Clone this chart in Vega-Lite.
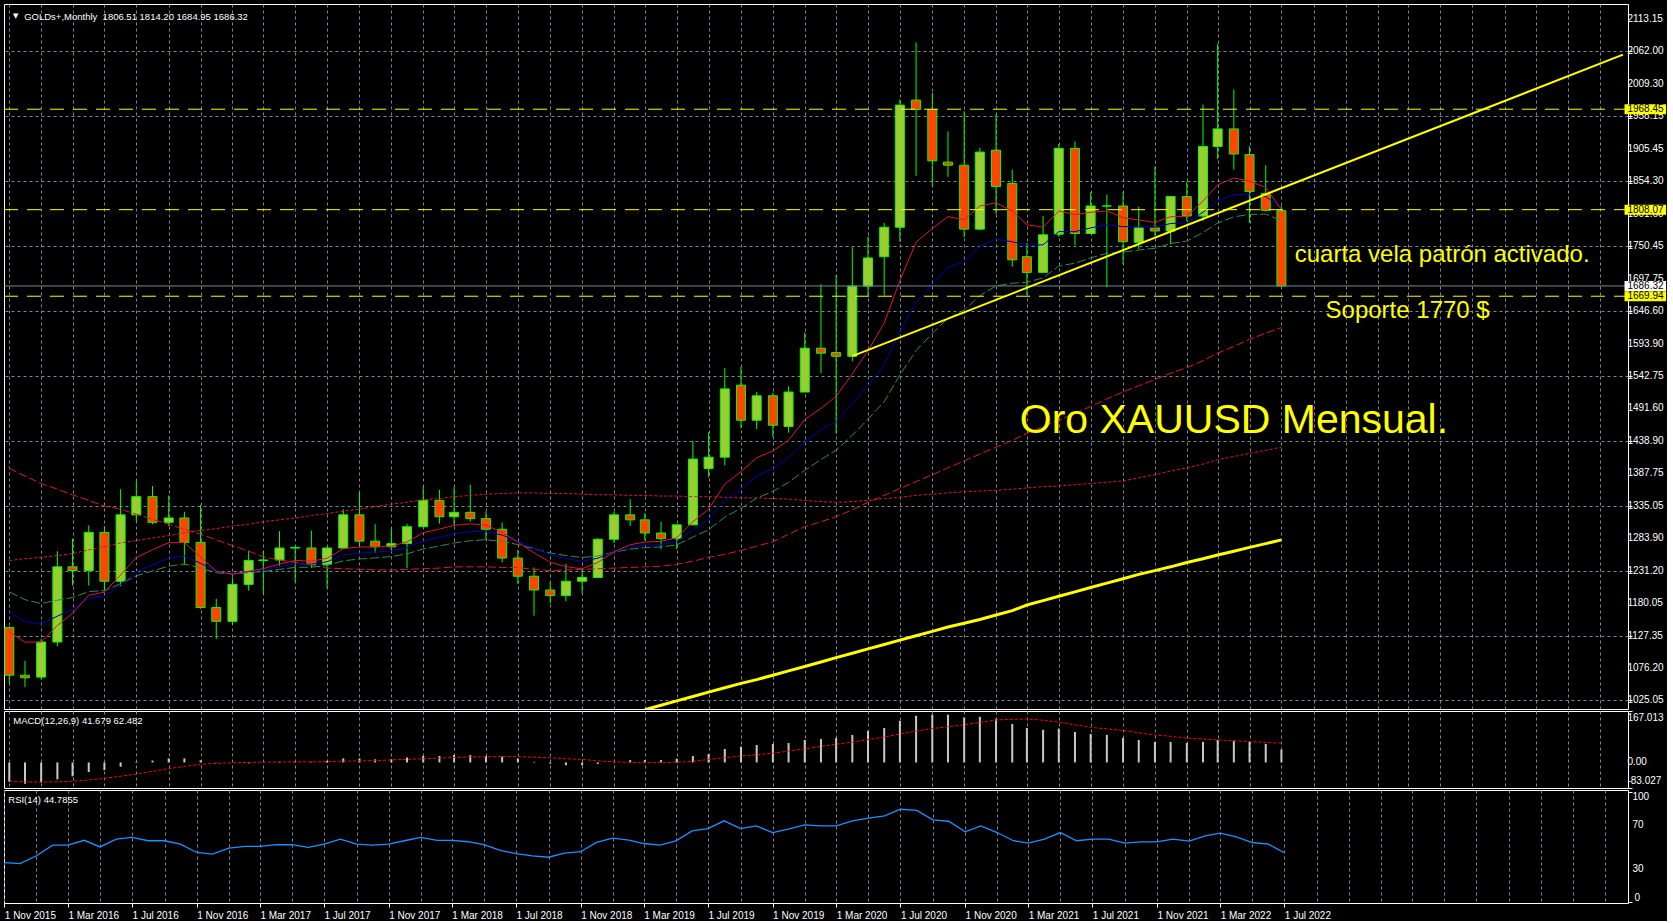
{
  "$schema": "https://vega.github.io/schema/vega-lite/v6.json",
  "background": "#000000",
  "padding": {"left": 3, "top": 3, "right": 0, "bottom": 0},
  "bounds": "flush",
  "spacing": 2,
  "resolve": {"scale": {"x": "independent", "y": "independent"}},
  "datasets": {
    "bars": [
      {"d": "2015-11-01", "o": 1141, "h": 1143, "l": 1052, "c": 1065, "e8": 1134, "e13": 1166, "e21": 1198, "s50": 1395, "s100": 1248, "s200": null, "m": -63, "sg": -62, "r": 35.9},
      {"d": "2015-12-01", "o": 1065, "h": 1088, "l": 1046, "c": 1061, "e8": 1117.8, "e13": 1151, "e21": 1185.5, "s50": 1383, "s100": 1251, "s200": null, "m": -69, "sg": -63, "r": 35},
      {"d": "2016-01-01", "o": 1062, "h": 1123, "l": 1058, "c": 1118, "e8": 1117.8, "e13": 1146.3, "e21": 1179.4, "s50": 1371, "s100": 1253, "s200": null, "m": -65, "sg": -64, "r": 42},
      {"d": "2016-02-01", "o": 1118, "h": 1263, "l": 1111, "c": 1238, "e8": 1144.5, "e13": 1159.4, "e21": 1184.7, "s50": 1362, "s100": 1256, "s200": null, "m": -55, "sg": -63, "r": 51.6},
      {"d": "2016-03-01", "o": 1238, "h": 1283, "l": 1208, "c": 1232, "e8": 1163.9, "e13": 1169.8, "e21": 1189, "s50": 1353, "s100": 1259, "s200": null, "m": -45, "sg": -61, "r": 51.6},
      {"d": "2016-04-01", "o": 1232, "h": 1304, "l": 1208, "c": 1293, "e8": 1192.6, "e13": 1187.4, "e21": 1198.5, "s50": 1344, "s100": 1265, "s200": null, "m": -31, "sg": -57, "r": 56},
      {"d": "2016-05-01", "o": 1293, "h": 1303, "l": 1200, "c": 1215, "e8": 1197.6, "e13": 1191.3, "e21": 1200, "s50": 1335, "s100": 1270, "s200": null, "m": -25, "sg": -52, "r": 50},
      {"d": "2016-06-01", "o": 1215, "h": 1362, "l": 1207, "c": 1321, "e8": 1225, "e13": 1209.8, "e21": 1211, "s50": 1330, "s100": 1276, "s200": null, "m": -14, "sg": -45, "r": 57},
      {"d": "2016-07-01", "o": 1321, "h": 1375, "l": 1310, "c": 1350, "e8": 1252.8, "e13": 1229.8, "e21": 1223.6, "s50": 1322, "s100": 1280, "s200": null, "m": -2, "sg": -38, "r": 58.6},
      {"d": "2016-08-01", "o": 1350, "h": 1367, "l": 1306, "c": 1309, "e8": 1265.3, "e13": 1241.1, "e21": 1231.4, "s50": 1314, "s100": 1284, "s200": null, "m": 6, "sg": -29, "r": 55.6},
      {"d": "2016-09-01", "o": 1309, "h": 1352, "l": 1303, "c": 1316, "e8": 1276.6, "e13": 1251.8, "e21": 1239.1, "s50": 1306, "s100": 1288, "s200": null, "m": 13, "sg": -20, "r": 55.6},
      {"d": "2016-10-01", "o": 1316, "h": 1326, "l": 1241, "c": 1277, "e8": 1276.7, "e13": 1255.4, "e21": 1242.5, "s50": 1298, "s100": 1292, "s200": null, "m": 13, "sg": -13, "r": 52.6},
      {"d": "2016-11-01", "o": 1277, "h": 1337, "l": 1171, "c": 1173, "e8": 1253.7, "e13": 1243.6, "e21": 1236.2, "s50": 1290, "s100": 1296, "s200": null, "m": 7, "sg": -6, "r": 45},
      {"d": "2016-12-01", "o": 1173, "h": 1187, "l": 1123, "c": 1151, "e8": 1230.9, "e13": 1230.4, "e21": 1228.5, "s50": 1281, "s100": 1299, "s200": null, "m": -1, "sg": -3, "r": 43.6},
      {"d": "2017-01-01", "o": 1151, "h": 1220, "l": 1146, "c": 1210, "e8": 1226.3, "e13": 1227.5, "e21": 1226.8, "s50": 1272, "s100": 1303, "s200": null, "m": 0, "sg": -1, "r": 49},
      {"d": "2017-02-01", "o": 1210, "h": 1264, "l": 1200, "c": 1248, "e8": 1231.1, "e13": 1230.4, "e21": 1228.7, "s50": 1263, "s100": 1306, "s200": null, "m": -3, "sg": 0, "r": 50.5},
      {"d": "2017-03-01", "o": 1248, "h": 1263, "l": 1195, "c": 1249, "e8": 1235.1, "e13": 1233.1, "e21": 1230.5, "s50": 1254, "s100": 1310, "s200": null, "m": 1, "sg": 1, "r": 50.5},
      {"d": "2017-04-01", "o": 1249, "h": 1295, "l": 1240, "c": 1268, "e8": 1242.4, "e13": 1238.1, "e21": 1233.9, "s50": 1249, "s100": 1313, "s200": null, "m": 2, "sg": 1, "r": 52},
      {"d": "2017-05-01", "o": 1268, "h": 1270, "l": 1214, "c": 1269, "e8": 1248.3, "e13": 1242.5, "e21": 1237.1, "s50": 1245, "s100": 1316, "s200": null, "m": 3, "sg": 2, "r": 52},
      {"d": "2017-06-01", "o": 1268, "h": 1296, "l": 1236, "c": 1242, "e8": 1246.9, "e13": 1242.4, "e21": 1237.5, "s50": 1240, "s100": 1320, "s200": null, "m": 2, "sg": 2, "r": 49.6},
      {"d": "2017-07-01", "o": 1242, "h": 1270, "l": 1204, "c": 1268, "e8": 1251.6, "e13": 1246.1, "e21": 1240.3, "s50": 1236, "s100": 1323, "s200": null, "m": 5, "sg": 2, "r": 52.6},
      {"d": "2017-08-01", "o": 1268, "h": 1330, "l": 1267, "c": 1321, "e8": 1267, "e13": 1256.8, "e21": 1247.6, "s50": 1235, "s100": 1327, "s200": null, "m": 13, "sg": 4, "r": 57},
      {"d": "2017-09-01", "o": 1321, "h": 1357, "l": 1271, "c": 1279, "e8": 1269.7, "e13": 1260, "e21": 1250.5, "s50": 1234, "s100": 1330, "s200": null, "m": 13, "sg": 5, "r": 52.6},
      {"d": "2017-10-01", "o": 1279, "h": 1306, "l": 1260, "c": 1270, "e8": 1269.8, "e13": 1261.4, "e21": 1252.3, "s50": 1233, "s100": 1334, "s200": null, "m": 10, "sg": 6, "r": 51.6},
      {"d": "2017-11-01", "o": 1270, "h": 1299, "l": 1264, "c": 1275, "e8": 1270.9, "e13": 1263.3, "e21": 1254.4, "s50": 1233, "s100": 1338, "s200": null, "m": 10, "sg": 8, "r": 52.6},
      {"d": "2017-12-01", "o": 1275, "h": 1307, "l": 1236, "c": 1302, "e8": 1277.8, "e13": 1268.8, "e21": 1258.7, "s50": 1234, "s100": 1341, "s200": null, "m": 16, "sg": 10, "r": 55.6},
      {"d": "2018-01-01", "o": 1302, "h": 1366, "l": 1302, "c": 1344, "e8": 1292.5, "e13": 1279.5, "e21": 1266.5, "s50": 1235, "s100": 1345, "s200": null, "m": 21, "sg": 12, "r": 58.6},
      {"d": "2018-02-01", "o": 1344, "h": 1361, "l": 1307, "c": 1318, "e8": 1298.2, "e13": 1285, "e21": 1271.2, "s50": 1236, "s100": 1347, "s200": null, "m": 21, "sg": 14, "r": 56},
      {"d": "2018-03-01", "o": 1318, "h": 1365, "l": 1303, "c": 1325, "e8": 1304.2, "e13": 1290.7, "e21": 1276.1, "s50": 1238, "s100": 1350, "s200": null, "m": 24, "sg": 16, "r": 56},
      {"d": "2018-04-01", "o": 1325, "h": 1369, "l": 1310, "c": 1315, "e8": 1306.6, "e13": 1294.2, "e21": 1279.6, "s50": 1238, "s100": 1352, "s200": null, "m": 24, "sg": 18, "r": 54.7},
      {"d": "2018-05-01", "o": 1315, "h": 1326, "l": 1281, "c": 1298, "e8": 1304.7, "e13": 1294.7, "e21": 1281.3, "s50": 1238, "s100": 1354, "s200": null, "m": 21, "sg": 18, "r": 52},
      {"d": "2018-06-01", "o": 1298, "h": 1309, "l": 1245, "c": 1252, "e8": 1293, "e13": 1288.6, "e21": 1278.6, "s50": 1237, "s100": 1355, "s200": null, "m": 19, "sg": 19, "r": 47},
      {"d": "2018-07-01", "o": 1252, "h": 1265, "l": 1211, "c": 1223, "e8": 1277.4, "e13": 1279.2, "e21": 1273.5, "s50": 1237, "s100": 1356, "s200": null, "m": 13, "sg": 19, "r": 44},
      {"d": "2018-08-01", "o": 1223, "h": 1237, "l": 1160, "c": 1201, "e8": 1260.4, "e13": 1268, "e21": 1266.9, "s50": 1234, "s100": 1356, "s200": null, "m": 2, "sg": 17, "r": 42},
      {"d": "2018-09-01", "o": 1201, "h": 1214, "l": 1180, "c": 1192, "e8": 1245.2, "e13": 1257.1, "e21": 1260.1, "s50": 1232, "s100": 1355, "s200": null, "m": -4, "sg": 15, "r": 40.7},
      {"d": "2018-10-01", "o": 1192, "h": 1243, "l": 1183, "c": 1215, "e8": 1238.5, "e13": 1251.1, "e21": 1256, "s50": 1233, "s100": 1355, "s200": null, "m": -9, "sg": 12, "r": 44.4},
      {"d": "2018-11-01", "o": 1215, "h": 1237, "l": 1196, "c": 1221, "e8": 1234.6, "e13": 1246.8, "e21": 1252.8, "s50": 1234, "s100": 1354, "s200": null, "m": -9, "sg": 10, "r": 45.7},
      {"d": "2018-12-01", "o": 1221, "h": 1284, "l": 1221, "c": 1282, "e8": 1245.1, "e13": 1251.8, "e21": 1255.5, "s50": 1235, "s100": 1353, "s200": null, "m": -5, "sg": 5, "r": 54.1},
      {"d": "2019-01-01", "o": 1282, "h": 1326, "l": 1276, "c": 1321, "e8": 1262, "e13": 1261.7, "e21": 1261.4, "s50": 1236, "s100": 1353, "s200": null, "m": 1, "sg": 2, "r": 58},
      {"d": "2019-02-01", "o": 1321, "h": 1346, "l": 1303, "c": 1313, "e8": 1273.3, "e13": 1269, "e21": 1266.1, "s50": 1237, "s100": 1352, "s200": null, "m": 7.6, "sg": 0, "r": 56.2},
      {"d": "2019-03-01", "o": 1313, "h": 1324, "l": 1280, "c": 1292, "e8": 1277.5, "e13": 1272.3, "e21": 1268.5, "s50": 1238, "s100": 1352, "s200": 1010, "m": 7.6, "sg": 0, "r": 53.1},
      {"d": "2019-04-01", "o": 1292, "h": 1310, "l": 1266, "c": 1283, "e8": 1278.7, "e13": 1273.8, "e21": 1269.8, "s50": 1239, "s100": 1351, "s200": 1017, "m": 7.6, "sg": 0, "r": 51.6},
      {"d": "2019-05-01", "o": 1283, "h": 1306, "l": 1266, "c": 1305, "e8": 1284.5, "e13": 1278.3, "e21": 1273, "s50": 1242, "s100": 1351, "s200": 1024, "m": 12, "sg": 1, "r": 55.5},
      {"d": "2019-06-01", "o": 1305, "h": 1439, "l": 1305, "c": 1410, "e8": 1310, "e13": 1297.1, "e21": 1285.5, "s50": 1247, "s100": 1350, "s200": 1031, "m": 20.7, "sg": 3, "r": 64.5},
      {"d": "2019-07-01", "o": 1395, "h": 1453, "l": 1381, "c": 1413, "e8": 1330, "e13": 1313.7, "e21": 1297.1, "s50": 1253, "s100": 1350, "s200": 1038, "m": 27, "sg": 10, "r": 66.6},
      {"d": "2019-08-01", "o": 1413, "h": 1555, "l": 1400, "c": 1522, "e8": 1370, "e13": 1343.2, "e21": 1317.4, "s50": 1258, "s100": 1349, "s200": 1045, "m": 43.6, "sg": 15, "r": 73.6},
      {"d": "2019-09-01", "o": 1528, "h": 1557, "l": 1459, "c": 1472, "e8": 1390, "e13": 1361.6, "e21": 1331.4, "s50": 1264, "s100": 1348, "s200": 1052, "m": 51, "sg": 21, "r": 66.6},
      {"d": "2019-10-01", "o": 1472, "h": 1517, "l": 1458, "c": 1511, "e8": 1412, "e13": 1382.9, "e21": 1347.7, "s50": 1271, "s100": 1348, "s200": 1058, "m": 56.7, "sg": 25, "r": 69},
      {"d": "2019-11-01", "o": 1511, "h": 1516, "l": 1445, "c": 1464, "e8": 1423, "e13": 1394.5, "e21": 1358.3, "s50": 1278, "s100": 1347, "s200": 1065, "m": 60, "sg": 30, "r": 63},
      {"d": "2019-12-01", "o": 1462, "h": 1526, "l": 1452, "c": 1517, "e8": 1440, "e13": 1412, "e21": 1372.7, "s50": 1290, "s100": 1346, "s200": 1072, "m": 63, "sg": 37, "r": 66},
      {"d": "2020-01-01", "o": 1517, "h": 1612, "l": 1517, "c": 1587, "e8": 1473, "e13": 1437, "e21": 1392.2, "s50": 1302, "s100": 1344, "s200": 1079, "m": 73, "sg": 44, "r": 70},
      {"d": "2020-02-01", "o": 1587, "h": 1689, "l": 1547, "c": 1579, "e8": 1491, "e13": 1457.3, "e21": 1409.2, "s50": 1310, "s100": 1342, "s200": 1086, "m": 76, "sg": 52, "r": 69},
      {"d": "2020-03-01", "o": 1580, "h": 1704, "l": 1451, "c": 1574, "e8": 1510, "e13": 1470, "e21": 1424.2, "s50": 1318, "s100": 1341, "s200": 1093, "m": 79.6, "sg": 59, "r": 69},
      {"d": "2020-04-01", "o": 1574, "h": 1748, "l": 1566, "c": 1686, "e8": 1546, "e13": 1498, "e21": 1448, "s50": 1329, "s100": 1342, "s200": 1100, "m": 89, "sg": 66, "r": 73.6},
      {"d": "2020-05-01", "o": 1686, "h": 1765, "l": 1670, "c": 1731, "e8": 1583, "e13": 1527, "e21": 1473.7, "s50": 1341, "s100": 1344, "s200": 1107, "m": 102.5, "sg": 74, "r": 76},
      {"d": "2020-06-01", "o": 1733, "h": 1787, "l": 1671, "c": 1780, "e8": 1627, "e13": 1560, "e21": 1501.5, "s50": 1352, "s100": 1347, "s200": 1114, "m": 112, "sg": 83, "r": 78},
      {"d": "2020-07-01", "o": 1780, "h": 1984, "l": 1757, "c": 1975, "e8": 1695, "e13": 1614, "e21": 1544.5, "s50": 1363, "s100": 1349, "s200": 1121, "m": 135, "sg": 92, "r": 84},
      {"d": "2020-08-01", "o": 1983, "h": 2075, "l": 1862, "c": 1968, "e8": 1756, "e13": 1660, "e21": 1583, "s50": 1374, "s100": 1352, "s200": 1128, "m": 151.6, "sg": 102, "r": 83},
      {"d": "2020-09-01", "o": 1968, "h": 1995, "l": 1846, "c": 1886, "e8": 1778, "e13": 1688, "e21": 1610.5, "s50": 1385, "s100": 1354, "s200": 1135, "m": 155, "sg": 110, "r": 74.4},
      {"d": "2020-10-01", "o": 1884, "h": 1933, "l": 1860, "c": 1879, "e8": 1797, "e13": 1716, "e21": 1634.9, "s50": 1396, "s100": 1356, "s200": 1142, "m": 155, "sg": 116, "r": 73.2},
      {"d": "2020-11-01", "o": 1879, "h": 1965, "l": 1764, "c": 1777, "e8": 1792, "e13": 1725, "e21": 1647.8, "s50": 1407, "s100": 1358, "s200": 1148, "m": 146, "sg": 122, "r": 63.6},
      {"d": "2020-12-01", "o": 1777, "h": 1907, "l": 1775, "c": 1900, "e8": 1814, "e13": 1750, "e21": 1670.7, "s50": 1418, "s100": 1359, "s200": 1154, "m": 148, "sg": 130, "r": 69},
      {"d": "2021-01-01", "o": 1903, "h": 1960, "l": 1801, "c": 1845, "e8": 1819, "e13": 1761, "e21": 1686.5, "s50": 1429, "s100": 1360, "s200": 1161, "m": 142, "sg": 138, "r": 63},
      {"d": "2021-02-01", "o": 1850, "h": 1872, "l": 1717, "c": 1728, "e8": 1806, "e13": 1757, "e21": 1690.7, "s50": 1440, "s100": 1362, "s200": 1168, "m": 125, "sg": 140, "r": 55.6},
      {"d": "2021-03-01", "o": 1733, "h": 1755, "l": 1672, "c": 1708, "e8": 1784, "e13": 1751, "e21": 1692.3, "s50": 1451, "s100": 1364, "s200": 1177, "m": 112, "sg": 141, "r": 53.4},
      {"d": "2021-04-01", "o": 1708, "h": 1798, "l": 1708, "c": 1768, "e8": 1780, "e13": 1752, "e21": 1699.2, "s50": 1462, "s100": 1366, "s200": 1184, "m": 106, "sg": 137, "r": 57},
      {"d": "2021-05-01", "o": 1769, "h": 1913, "l": 1765, "c": 1906, "e8": 1806, "e13": 1773, "e21": 1718, "s50": 1472, "s100": 1367, "s200": 1191, "m": 110, "sg": 131, "r": 63},
      {"d": "2021-06-01", "o": 1906, "h": 1917, "l": 1751, "c": 1770, "e8": 1800, "e13": 1773, "e21": 1722.7, "s50": 1483, "s100": 1369, "s200": 1198, "m": 99, "sg": 122, "r": 55.6},
      {"d": "2021-07-01", "o": 1770, "h": 1836, "l": 1770, "c": 1814, "e8": 1803.9, "e13": 1779, "e21": 1731, "s50": 1494, "s100": 1371, "s200": 1205, "m": 92.7, "sg": 114, "r": 57},
      {"d": "2021-08-01", "o": 1814, "h": 1832, "l": 1684, "c": 1814, "e8": 1806.1, "e13": 1784, "e21": 1738.5, "s50": 1506, "s100": 1373, "s200": 1212, "m": 89.4, "sg": 109, "r": 57},
      {"d": "2021-09-01", "o": 1814, "h": 1836, "l": 1721, "c": 1757, "e8": 1795.2, "e13": 1781, "e21": 1740.2, "s50": 1517, "s100": 1375, "s200": 1219, "m": 79.6, "sg": 104, "r": 53.4},
      {"d": "2021-10-01", "o": 1756, "h": 1813, "l": 1745, "c": 1779, "e8": 1791.6, "e13": 1781, "e21": 1743.7, "s50": 1527, "s100": 1380, "s200": 1226, "m": 73, "sg": 96, "r": 54.6},
      {"d": "2021-11-01", "o": 1779, "h": 1877, "l": 1766, "c": 1774, "e8": 1787.7, "e13": 1780, "e21": 1746.5, "s50": 1537, "s100": 1385, "s200": 1232, "m": 66.5, "sg": 89, "r": 54.6},
      {"d": "2021-12-01", "o": 1774, "h": 1830, "l": 1753, "c": 1829, "e8": 1796.9, "e13": 1786, "e21": 1754, "s50": 1547, "s100": 1391, "s200": 1238, "m": 66.5, "sg": 85, "r": 57},
      {"d": "2022-01-01", "o": 1829, "h": 1853, "l": 1790, "c": 1798, "e8": 1797.1, "e13": 1787, "e21": 1758, "s50": 1556, "s100": 1396, "s200": 1245, "m": 63, "sg": 79, "r": 55.2},
      {"d": "2022-02-01", "o": 1798, "h": 1976, "l": 1790, "c": 1909, "e8": 1822, "e13": 1804, "e21": 1771.7, "s50": 1567, "s100": 1402, "s200": 1251, "m": 66.5, "sg": 76, "r": 60},
      {"d": "2022-03-01", "o": 1909, "h": 2073, "l": 1889, "c": 1937, "e8": 1847.6, "e13": 1822, "e21": 1786.7, "s50": 1579, "s100": 1409, "s200": 1257, "m": 73, "sg": 73, "r": 62.4},
      {"d": "2022-04-01", "o": 1937, "h": 2000, "l": 1872, "c": 1897, "e8": 1858.6, "e13": 1832, "e21": 1796.7, "s50": 1590, "s100": 1414, "s200": 1263, "m": 71, "sg": 70, "r": 59},
      {"d": "2022-05-01", "o": 1896, "h": 1909, "l": 1787, "c": 1837, "e8": 1853.8, "e13": 1833, "e21": 1800.4, "s50": 1601, "s100": 1419, "s200": 1269, "m": 66.5, "sg": 68, "r": 54},
      {"d": "2022-06-01", "o": 1834, "h": 1879, "l": 1805, "c": 1807, "e8": 1843.4, "e13": 1829, "e21": 1801, "s50": 1611, "s100": 1424, "s200": 1275, "m": 60, "sg": 65, "r": 52.5},
      {"d": "2022-07-01", "o": 1806.51, "h": 1814.2, "l": 1684.95, "c": 1686.32, "e8": 1808.4, "e13": 1811, "e21": 1790.5, "s50": 1620, "s100": 1429, "s200": 1281, "m": 41.679, "sg": 62.482, "r": 44.79}
    ],
    "pticks": [
      {"v": 2113.15}, {"v": 2062.0}, {"v": 2009.3}, {"v": 1958.15}, {"v": 1905.45}, {"v": 1854.3},
      {"v": 1801.6}, {"v": 1750.45}, {"v": 1697.75}, {"v": 1646.6}, {"v": 1593.9}, {"v": 1542.75},
      {"v": 1491.6}, {"v": 1438.9}, {"v": 1387.75}, {"v": 1335.05}, {"v": 1283.9}, {"v": 1231.2},
      {"v": 1180.05}, {"v": 1127.35}, {"v": 1076.2}, {"v": 1025.05}
    ],
    "mticks": [
      {"v": 167.013, "t": "167.013"},
      {"v": 0, "t": "0.00"},
      {"v": -83.027, "t": "-83.027"}
    ],
    "rticks": [
      {"v": 100, "t": "100"},
      {"v": 70, "t": "70"},
      {"v": 30, "t": "30"}
    ],
    "levels": [
      {"p": 1968.45, "k": "lvl"},
      {"p": 1808.07, "k": "lvl"},
      {"p": 1686.32, "k": "bid"},
      {"p": 1669.94, "k": "lvl"}
    ],
    "trend": [
      {"d": "2020-04-01", "p": 1574.4},
      {"d": "2024-04-14T14:00:00Z", "p": 2055.6}
    ],
    "head": [
      {"d": "2015-11-29T12:00:00Z", "p": 2111.1, "t": "GOLDs+,Monthly\u00a0 1806.51 1814.20 1684.95 1686.32"}
    ],
    "arrow": [
      {"d": "2015-11-13T00:00:00Z", "p": 2117, "t": "▼"}
    ],
    "notes": [
      {"d": "2022-07-26T12:00:00Z", "p": 1724, "t": "cuarta vela patrón activado."},
      {"d": "2022-09-23T12:00:00Z", "p": 1634.8, "t": "Soporte 1770 $"}
    ],
    "big": [
      {"d": "2021-02-15T08:00:00Z", "p": 1451.3, "t": "Oro XAUUSD Mensual."}
    ],
    "macdLabel": [
      {"d": "2015-11-08T14:00:00Z", "v": 123.7, "t": "MACD(12,26,9) 41.679 62.482"}
    ],
    "rsiLabel": [
      {"d": "2015-11-08T14:00:00Z", "v": 89.4, "t": "RSI(14) 44.7855"}
    ]
  },
  "vconcat": [
    {
      "width": 1624,
      "height": 705,
      "layer": [
        {
          "data": {"name": "bars"},
          "mark": {"type": "rule", "color": "#00ff00", "strokeWidth": 1, "clip": true},
          "encoding": {
            "x": {"field": "d", "type": "temporal", "title": null,
              "scale": {"type": "utc", "domain": [{"year": 2015, "month": 10, "date": 31, "hours": 10, "minutes": 20, "utc": true}, {"year": 2024, "month": 4, "date": 14, "hours": 14, "utc": true}]},
              "axis": {"tickCount": {"interval": "month", "step": 2}, "grid": true, "labels": false, "ticks": false, "domain": false, "title": null}},
            "y": {"field": "l", "type": "quantitative", "title": null,
              "scale": {"domain": [1019.05, 2128.4], "nice": false, "zero": false},
              "axis": {"orient": "right", "title": null, "grid": true, "labels": false, "ticks": true,
                "values": [2113.15, 2062.0, 2009.3, 1958.15, 1905.45, 1854.3, 1801.6, 1750.45, 1697.75, 1646.6, 1593.9, 1542.75, 1491.6, 1438.9, 1387.75, 1335.05, 1283.9, 1231.2, 1180.05, 1127.35, 1076.2, 1025.05]}},
            "y2": {"field": "h"}
          }
        },
        {
          "data": {"name": "bars"},
          "mark": {"type": "bar", "size": 9, "stroke": "#00ff00", "strokeWidth": 1, "clip": true},
          "encoding": {
            "x": {"field": "d", "type": "temporal", "title": null, "scale": {"type": "utc"}},
            "y": {"field": "o", "type": "quantitative", "title": null},
            "y2": {"field": "c"},
            "fill": {"condition": {"test": "datum.c >= datum.o", "value": "#9acd32"}, "value": "#ff4500"}
          }
        },
        {
          "data": {"name": "bars"},
          "mark": {"type": "line", "color": "#ffff00", "strokeWidth": 3, "clip": true},
          "encoding": {
            "x": {"field": "d", "type": "temporal", "title": null, "scale": {"type": "utc"}},
            "y": {"field": "s200", "type": "quantitative", "title": null}
          }
        },
        {
          "data": {"name": "bars"},
          "mark": {"type": "line", "color": "#dc143c", "strokeWidth": 1, "strokeDash": [3, 2], "clip": true},
          "encoding": {
            "x": {"field": "d", "type": "temporal", "title": null, "scale": {"type": "utc"}},
            "y": {"field": "s100", "type": "quantitative", "title": null}
          }
        },
        {
          "data": {"name": "bars"},
          "mark": {"type": "line", "color": "#dc143c", "strokeWidth": 1, "strokeDash": [8, 3], "clip": true},
          "encoding": {
            "x": {"field": "d", "type": "temporal", "title": null, "scale": {"type": "utc"}},
            "y": {"field": "s50", "type": "quantitative", "title": null}
          }
        },
        {
          "data": {"name": "bars"},
          "mark": {"type": "line", "color": "#2e8b57", "strokeWidth": 1, "strokeDash": [9, 3], "clip": true},
          "encoding": {
            "x": {"field": "d", "type": "temporal", "title": null, "scale": {"type": "utc"}},
            "y": {"field": "e21", "type": "quantitative", "title": null}
          }
        },
        {
          "data": {"name": "bars"},
          "mark": {"type": "line", "color": "#0000b4", "strokeWidth": 1, "clip": true},
          "encoding": {
            "x": {"field": "d", "type": "temporal", "title": null, "scale": {"type": "utc"}},
            "y": {"field": "e13", "type": "quantitative", "title": null}
          }
        },
        {
          "data": {"name": "bars"},
          "mark": {"type": "line", "color": "#dc143c", "strokeWidth": 1, "clip": true},
          "encoding": {
            "x": {"field": "d", "type": "temporal", "title": null, "scale": {"type": "utc"}},
            "y": {"field": "e8", "type": "quantitative", "title": null}
          }
        },
        {
          "data": {"name": "levels"},
          "mark": {"type": "rule", "strokeWidth": 1},
          "encoding": {
            "y": {"field": "p", "type": "quantitative", "title": null},
            "color": {"condition": {"test": "datum.k == 'bid'", "value": "#778899"}, "value": "#ffff00"},
            "strokeDash": {"condition": {"test": "datum.k == 'bid'", "value": [1, 0]}, "value": [14, 9]}
          }
        },
        {
          "data": {"name": "trend"},
          "mark": {"type": "line", "color": "#ffff00", "strokeWidth": 2, "clip": true},
          "encoding": {
            "x": {"field": "d", "type": "temporal", "title": null, "scale": {"type": "utc"}},
            "y": {"field": "p", "type": "quantitative", "title": null}
          }
        },
        {
          "data": {"name": "pticks"},
          "mark": {"type": "text", "align": "left", "baseline": "middle", "font": "Liberation Sans", "fontSize": 10, "color": "#ffffff", "clip": false},
          "encoding": {
            "x": {"datum": {"year": 2024, "month": 4, "date": 23, "utc": true}, "type": "temporal", "scale": {"type": "utc"}},
            "y": {"field": "v", "type": "quantitative", "title": null},
            "text": {"field": "v", "type": "quantitative", "format": ".2f"}
          }
        },
        {
          "data": {"name": "levels"},
          "mark": {"type": "bar", "orient": "horizontal", "size": 10, "clip": false},
          "encoding": {
            "x": {"datum": {"year": 2024, "month": 4, "date": 17, "hours": 12, "utc": true}, "type": "temporal", "scale": {"type": "utc"}},
            "x2": {"datum": {"year": 2024, "month": 7, "date": 6, "utc": true}},
            "y": {"field": "p", "type": "quantitative", "title": null},
            "fill": {"condition": {"test": "datum.k == 'bid'", "value": "#ffffff"}, "value": "#ffff00"}
          }
        },
        {
          "data": {"name": "levels"},
          "mark": {"type": "text", "align": "left", "baseline": "middle", "font": "Liberation Sans", "fontSize": 10, "color": "#000000", "clip": false},
          "encoding": {
            "x": {"datum": {"year": 2024, "month": 4, "date": 23, "utc": true}, "type": "temporal", "scale": {"type": "utc"}},
            "y": {"field": "p", "type": "quantitative", "title": null},
            "text": {"field": "p", "type": "quantitative", "format": ".2f"}
          }
        },
        {
          "data": {"name": "head"},
          "mark": {"type": "text", "align": "left", "baseline": "alphabetic", "font": "Liberation Sans", "fontSize": 9.5, "color": "#ffffff"},
          "encoding": {
            "x": {"field": "d", "type": "temporal", "title": null, "scale": {"type": "utc"}},
            "y": {"field": "p", "type": "quantitative", "title": null},
            "text": {"field": "t"}
          }
        },
        {
          "data": {"name": "arrow"},
          "mark": {"type": "text", "align": "center", "baseline": "middle", "font": "DejaVu Sans", "fontSize": 7, "color": "#ffffff"},
          "encoding": {
            "x": {"field": "d", "type": "temporal", "title": null, "scale": {"type": "utc"}},
            "y": {"field": "p", "type": "quantitative", "title": null},
            "text": {"field": "t"}
          }
        },
        {
          "data": {"name": "notes"},
          "mark": {"type": "text", "align": "left", "baseline": "alphabetic", "font": "Liberation Sans", "fontSize": 24, "color": "#ffff00"},
          "encoding": {
            "x": {"field": "d", "type": "temporal", "title": null, "scale": {"type": "utc"}},
            "y": {"field": "p", "type": "quantitative", "title": null},
            "text": {"field": "t"}
          }
        },
        {
          "data": {"name": "big"},
          "mark": {"type": "text", "align": "left", "baseline": "alphabetic", "font": "Liberation Sans", "fontSize": 41, "color": "#ffff00"},
          "encoding": {
            "x": {"field": "d", "type": "temporal", "title": null, "scale": {"type": "utc"}},
            "y": {"field": "p", "type": "quantitative", "title": null},
            "text": {"field": "t"}
          }
        }
      ]
    },
    {
      "width": 1624,
      "height": 77,
      "layer": [
        {
          "data": {"name": "bars"},
          "mark": {"type": "bar", "size": 2, "color": "#c8c8c8", "clip": true},
          "encoding": {
            "x": {"field": "d", "type": "temporal", "title": null,
              "scale": {"type": "utc", "domain": [{"year": 2015, "month": 10, "date": 31, "hours": 10, "minutes": 20, "utc": true}, {"year": 2024, "month": 4, "date": 14, "hours": 14, "utc": true}]},
              "axis": {"tickCount": {"interval": "month", "step": 2}, "grid": true, "labels": false, "ticks": false, "domain": false, "title": null}},
            "y": {"field": "m", "type": "quantitative", "title": null,
              "scale": {"domain": [-83.027, 167.013], "nice": false, "zero": false},
              "axis": {"orient": "right", "title": null, "values": [167.013, 0, -83.027], "labels": false, "ticks": true,
                "grid": true, "gridOpacity": {"condition": {"test": "datum.value == 0", "value": 1}, "value": 0}}},
            "y2": {"datum": 0}
          }
        },
        {
          "data": {"name": "bars"},
          "mark": {"type": "line", "color": "#ff0000", "strokeWidth": 1, "strokeDash": [3, 2], "clip": true},
          "encoding": {
            "x": {"field": "d", "type": "temporal", "title": null, "scale": {"type": "utc"}},
            "y": {"field": "sg", "type": "quantitative", "title": null}
          }
        },
        {
          "data": {"name": "mticks"},
          "transform": [{"filter": "datum.v > 100"}],
          "mark": {"type": "text", "align": "left", "baseline": "top", "dy": 2, "font": "Liberation Sans", "fontSize": 10, "color": "#ffffff", "clip": false},
          "encoding": {
            "x": {"datum": {"year": 2024, "month": 4, "date": 23, "utc": true}, "type": "temporal", "scale": {"type": "utc"}},
            "y": {"field": "v", "type": "quantitative", "title": null},
            "text": {"field": "t"}
          }
        },
        {
          "data": {"name": "mticks"},
          "transform": [{"filter": "datum.v == 0"}],
          "mark": {"type": "text", "align": "left", "baseline": "middle", "font": "Liberation Sans", "fontSize": 10, "color": "#ffffff", "clip": false},
          "encoding": {
            "x": {"datum": {"year": 2024, "month": 4, "date": 23, "utc": true}, "type": "temporal", "scale": {"type": "utc"}},
            "y": {"field": "v", "type": "quantitative", "title": null},
            "text": {"field": "t"}
          }
        },
        {
          "data": {"name": "mticks"},
          "transform": [{"filter": "datum.v < 0"}],
          "mark": {"type": "text", "align": "left", "baseline": "bottom", "dy": -2, "font": "Liberation Sans", "fontSize": 10, "color": "#ffffff", "clip": false},
          "encoding": {
            "x": {"datum": {"year": 2024, "month": 4, "date": 23, "utc": true}, "type": "temporal", "scale": {"type": "utc"}},
            "y": {"field": "v", "type": "quantitative", "title": null},
            "text": {"field": "t"}
          }
        },
        {
          "data": {"name": "macdLabel"},
          "mark": {"type": "text", "align": "left", "baseline": "alphabetic", "font": "Liberation Sans", "fontSize": 9.5, "color": "#ffffff"},
          "encoding": {
            "x": {"field": "d", "type": "temporal", "title": null, "scale": {"type": "utc"}},
            "y": {"field": "v", "type": "quantitative", "title": null},
            "text": {"field": "t"}
          }
        }
      ]
    },
    {
      "width": 1624,
      "height": 113,
      "layer": [
        {
          "data": {"name": "bars"},
          "mark": {"type": "line", "color": "#1e90ff", "strokeWidth": 1.3, "clip": true},
          "encoding": {
            "x": {"field": "d", "type": "temporal", "title": null,
              "scale": {"type": "utc", "domain": [{"year": 2015, "month": 10, "date": 31, "hours": 10, "minutes": 20, "utc": true}, {"year": 2024, "month": 4, "date": 14, "hours": 14, "utc": true}]},
              "axis": {"tickCount": {"interval": "month", "step": 2}, "grid": true, "domain": false, "title": null,
                "labelExpr": "utcmonth(datum.value) % 4 == 2 && datum.value <= utc(2022, 6, 1) ? utcFormat(datum.value, '%-d %b %Y') : ''",
                "labelAlign": "left", "labelBaseline": "top", "labelPadding": 3, "tickSize": 4,
                "tickOpacity": {"condition": {"test": "utcmonth(datum.value) % 4 == 2 && datum.value <= utc(2022, 6, 1)", "value": 1}, "value": 0}}},
            "y": {"field": "r", "type": "quantitative", "title": null,
              "scale": {"domain": [-0.6, 101.4], "nice": false, "zero": false},
              "axis": {"orient": "right", "title": null, "values": [100, 70, 30, 0], "ticks": true,
                "labelExpr": "datum.value == 0 ? '0' : ''", "labelFlush": 3, "labelPadding": 2,
                "grid": true, "gridOpacity": {"condition": {"test": "datum.value == 70 || datum.value == 30", "value": 1}, "value": 0}}}
          }
        },
        {
          "data": {"name": "rticks"},
          "transform": [{"filter": "datum.v > 90"}],
          "mark": {"type": "text", "align": "left", "baseline": "top", "font": "Liberation Sans", "fontSize": 10, "color": "#ffffff", "clip": false},
          "encoding": {
            "x": {"datum": {"year": 2024, "month": 4, "date": 23, "utc": true}, "type": "temporal", "scale": {"type": "utc"}},
            "y": {"field": "v", "type": "quantitative", "title": null},
            "text": {"field": "t", "type": "nominal"}
          }
        },
        {
          "data": {"name": "rticks"},
          "transform": [{"filter": "datum.v < 90"}],
          "mark": {"type": "text", "align": "left", "baseline": "middle", "font": "Liberation Sans", "fontSize": 10, "color": "#ffffff", "clip": false},
          "encoding": {
            "x": {"datum": {"year": 2024, "month": 4, "date": 23, "utc": true}, "type": "temporal", "scale": {"type": "utc"}},
            "y": {"field": "v", "type": "quantitative", "title": null},
            "text": {"field": "t", "type": "nominal"}
          }
        },
        {
          "data": {"name": "rsiLabel"},
          "mark": {"type": "text", "align": "left", "baseline": "alphabetic", "font": "Liberation Sans", "fontSize": 9.5, "color": "#ffffff"},
          "encoding": {
            "x": {"field": "d", "type": "temporal", "title": null, "scale": {"type": "utc"}},
            "y": {"field": "v", "type": "quantitative", "title": null},
            "text": {"field": "t"}
          }
        }
      ]
    }
  ],
  "config": {
    "view": {"stroke": "#ffffff", "strokeWidth": 1},
    "axis": {
      "labelFont": "Liberation Sans",
      "labelFontSize": 10,
      "labelColor": "#ffffff",
      "tickColor": "#ffffff",
      "tickSize": 4,
      "tickWidth": 1,
      "gridColor": "#778899",
      "gridDash": [3, 3],
      "gridWidth": 1,
      "gridOpacity": 1,
      "domain": false,
      "labelOverlap": false,
      "labelBound": false,
      "labelFlush": false,
      "labelPadding": 2
    }
  }
}
